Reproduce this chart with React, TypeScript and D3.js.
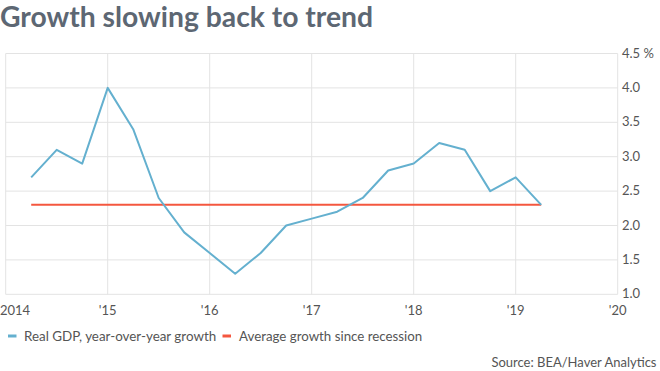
import React from "react";
import * as d3 from "d3";

const quarters = [
  2014.25, 2014.5, 2014.75, 2015.0, 2015.25, 2015.5, 2015.75, 2016.0, 2016.25, 2016.5, 2016.75,
  2017.0, 2017.25, 2017.5, 2017.75, 2018.0, 2018.25, 2018.5, 2018.75, 2019.0, 2019.25,
];
const gdpGrowth = [
  2.7, 3.1, 2.9, 4.0, 3.4, 2.4, 1.9, 1.6, 1.3, 1.6, 2.0,
  2.1, 2.2, 2.4, 2.8, 2.9, 3.2, 3.1, 2.5, 2.7, 2.3,
];
const averageGrowth = 2.3;
const yTicks = [1.0, 1.5, 2.0, 2.5, 3.0, 3.5, 4.0, 4.5];
const xTicks = [2014, 2015, 2016, 2017, 2018, 2019, 2020];
const xTickLabels = ["2014", "'15", "'16", "'17", "'18", "'19", "'20"];

const W = 660;
const H = 371;
const font = "Lato, 'Open Sans', sans-serif";

export default function App() {
  const x = d3.scaleLinear().domain([2014, 2020]).range([5.7, 617.7]);
  const y = d3.scaleLinear().domain([1.0, 4.5]).range([294.3, 53.5]);
  const line = d3
    .line<number>()
    .x((_, i) => x(quarters[i]))
    .y((d) => y(d));
  const grid = "#e3e3e3";
  return (
    <svg
      width={W}
      height={H}
      style={{ position: "absolute", left: 0, top: 0, background: "#fff" }}
      fontFamily={font}
    >
      <text x={0} y={27} fontSize={28.3} fontWeight={700} fill="#5d6773">
        Growth slowing back to trend
      </text>
      {yTicks.map((t) => (
        <line key={"gy" + t} x1={x(2014)} x2={x(2020)} y1={y(t)} y2={y(t)} stroke={grid} strokeWidth={1} />
      ))}
      {xTicks.map((t) => (
        <line key={"gx" + t} x1={x(t)} x2={x(t)} y1={y(4.5)} y2={y(1.0)} stroke={grid} strokeWidth={1} />
      ))}
      {yTicks.map((t) => (
        <text key={"ly" + t} x={622} y={y(t) + 4} fontSize={13} fill="#555">
          {t.toFixed(1) + (t === 4.5 ? " %" : "")}
        </text>
      ))}
      {xTicks.map((t, i) => (
        <text
          key={"lx" + t}
          x={i === 0 ? 0 : x(t)}
          y={314.5}
          fontSize={13}
          fill="#555"
          textAnchor={i === 0 ? "start" : "middle"}
        >
          {xTickLabels[i]}
        </text>
      ))}
      <line
        x1={x(quarters[0])}
        x2={x(quarters[quarters.length - 1])}
        y1={y(averageGrowth)}
        y2={y(averageGrowth)}
        stroke="#f4573f"
        strokeWidth={2}
      />
      <path d={line(gdpGrowth) || ""} fill="none" stroke="#64b0cf" strokeWidth={2} strokeLinejoin="round" />
      <line x1={8} x2={16.5} y1={336} y2={336} stroke="#64b0cf" strokeWidth={3} />
      <text x={24} y={340.5} fontSize={13.4} fill="#555">
        Real GDP, year-over-year growth
      </text>
      <line x1={222.5} x2={231} y1={336} y2={336} stroke="#f4573f" strokeWidth={3} />
      <text x={239} y={340.5} fontSize={13.3} fill="#555">
        Average growth since recession
      </text>
      <text x={656.5} y={367} fontSize={13} fill="#555" textAnchor="end">
        Source: BEA/Haver Analytics
      </text>
    </svg>
  );
}
